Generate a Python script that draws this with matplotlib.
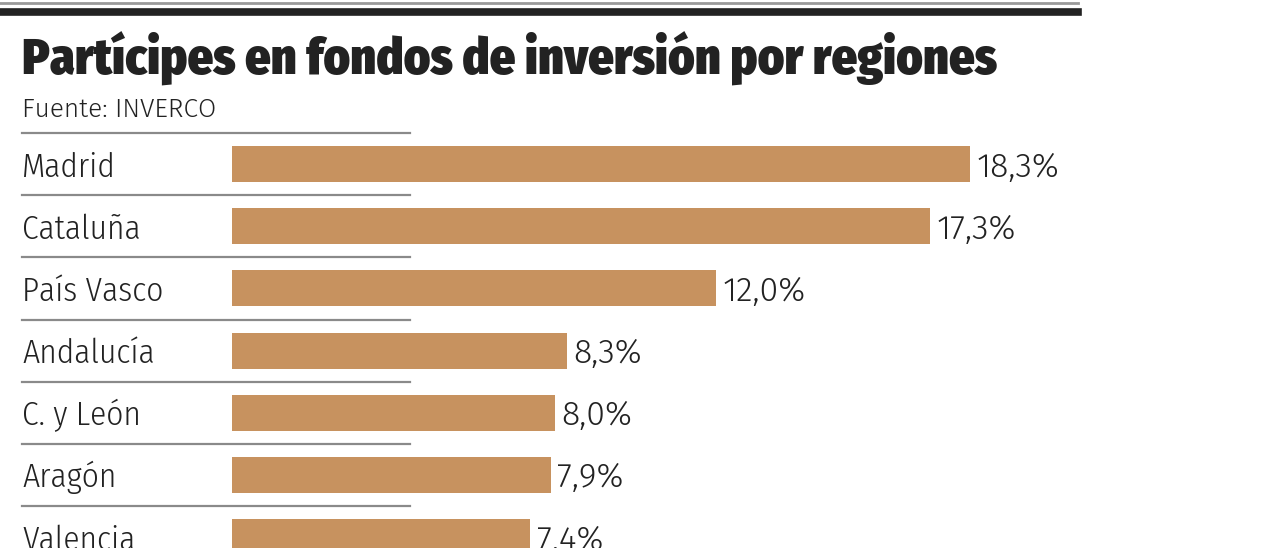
import matplotlib
matplotlib.use("Agg")
import matplotlib.pyplot as plt
from matplotlib.lines import Line2D
from matplotlib.transforms import blended_transform_factory

# datos (Fuente: INVERCO)
regiones = ["Madrid", "Cataluña", "País Vasco", "Andalucía", "C. y León", "Aragón", "Valencia"]
porcentajes = [18.3, 17.3, 12.0, 8.3, 8.0, 7.9, 7.4]
etiquetas = ["18,3%", "17,3%", "12,0%", "8,3%", "8,0%", "7,9%", "7,4%"]

title_font = ["Fira Sans Condensed", "DejaVu Sans"]
label_font = ["Fira Sans Condensed", "DejaVu Sans"]
value_font = ["Fira Sans", "Fira Sans Condensed", "DejaVu Sans"]
text_col = "#222222"

W, H = 1280, 548
fig = plt.figure(figsize=(W / 100, H / 100), dpi=100)
fig.patch.set_facecolor("white")

# one axes over the whole figure; x in %, y in rows
px_per_pct = 40.33
x0 = 232
row0, row_h = 164, 62.2
ax = fig.add_axes([0, 0, 1, 1])
ax.set_xlim(-x0 / px_per_pct, (W - x0) / px_per_pct)
ax.set_ylim((H - row0) / row_h, -row0 / row_h)
ax.axis("off")

y = list(range(len(regiones)))
ax.barh(y, porcentajes, height=0.58, color="#C7925F", left=0)

base_off = 12.5 / row_h   # text baseline below the row centre
lbl_trans = blended_transform_factory(fig.transFigure, ax.transData)
for i, (reg, val, lab) in enumerate(zip(regiones, porcentajes, etiquetas)):
    ax.text(22 / W, i + base_off, reg, transform=lbl_trans, fontsize=24, family=label_font,
            fontweight=300, color=text_col, va="baseline", ha="left")
    ax.text(val + 0.17, i + base_off, lab, fontsize=24.5, family=value_font,
            fontweight=300, color=text_col, va="baseline", ha="left")
    ax.add_line(Line2D([22 / W, 410 / W], [i - 0.5, i - 0.5], transform=lbl_trans,
                       color="#8a8a8a", lw=1.6))

# top rules
fig.add_artist(Line2D([0, 1078 / W], [1 - 3 / H, 1 - 3 / H], color="#9a9a9a", lw=2))
fig.add_artist(Line2D([0, 1078 / W], [1 - 12 / H, 1 - 12 / H], color="#222222", lw=5.5))

fig.text(22 / W, 1 - 75 / H, "Partícipes en fondos de inversión por regiones",
         fontsize=36, fontweight=900, family=title_font, color=text_col, va="baseline", ha="left")
fig.text(22 / W, 1 - 117 / H, "Fuente: INVERCO", fontsize=19, fontweight=300, family=value_font,
         color=text_col, va="baseline", ha="left")

fig.savefig("out.png", dpi=100)
